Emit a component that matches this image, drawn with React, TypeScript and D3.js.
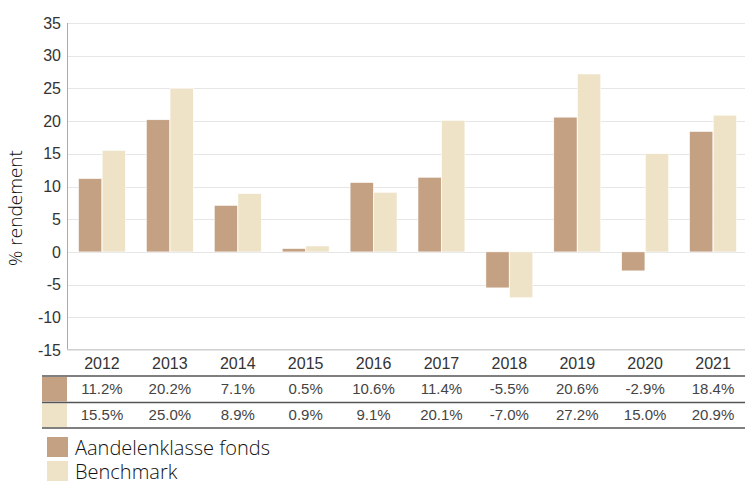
import React from "react";
import * as d3 from "d3";

const years = ["2012", "2013", "2014", "2015", "2016", "2017", "2018", "2019", "2020", "2021"];
const fundValues = [11.2, 20.2, 7.1, 0.5, 10.6, 11.4, -5.5, 20.6, -2.9, 18.4];
const benchValues = [15.5, 25.0, 8.9, 0.9, 9.1, 20.1, -7.0, 27.2, 15.0, 20.9];
const seriesNames = ["Aandelenklasse fonds", "Benchmark"];
const seriesColors = ["#C4A183", "#EEE2C7"];
const yTicks = [35, 30, 25, 20, 15, 10, 5, 0, -5, -10, -15];

const W = 745;
const H = 484;
const left = 67;
const right = 748;
const top = 23;
const bottom = 350;

export default function App() {
  const x = d3.scaleBand<string>().domain(years).range([left, right]).paddingInner(0.31).paddingOuter(0.17);
  const xs = d3.scaleBand<number>().domain([0, 1]).range([0, x.bandwidth()]).paddingInner(0.02);
  const y = d3.scaleLinear().domain([-15, 35]).range([bottom, top]);
  const series = [fundValues, benchValues];
  const tickFont = "'Liberation Sans', Arial, sans-serif";
  const labelFont = "'Open Sans', 'Noto Sans', sans-serif";

  const rowLines = [376, 402.5, 428];
  const rowText = [358, 389, 415];

  return (
    <svg width={W} height={H} style={{ position: "absolute", left: 0, top: 0, background: "#fff" }}>
      {yTicks.map((t) => (
        <line key={t} x1={left} x2={W} y1={Math.round(y(t)) + 0.5} y2={Math.round(y(t)) + 0.5} stroke="#E6E6E6" strokeWidth={1} />
      ))}
      {yTicks.map((t) => (
        <text key={"l" + t} x={left - 6} y={y(t)} dy="0.35em" textAnchor="end" fontFamily={tickFont} fontSize={16} fill="#333">
          {t}
        </text>
      ))}
      {series.map((vals, si) =>
        vals.map((v, i) => (
          <rect
            key={si + "-" + i}
            x={(x(years[i]) as number) + (xs(si) as number)}
            y={Math.min(y(v), y(0))}
            width={xs.bandwidth()}
            height={Math.abs(y(v) - y(0))}
            fill={seriesColors[si]}
            stroke="#fff"
            strokeWidth={0.5}
          />
        ))
      )}
      <line x1={left + 0.5} x2={left + 0.5} y1={top} y2={bottom} stroke="#AAAAAA" />
      <line x1={left} x2={W} y1={bottom - 0.5} y2={bottom - 0.5} stroke="#D0D0D0" />

      {years.map((yr) => (
        <text key={"h" + yr} x={(x(yr) as number) + x.bandwidth() / 2} y={rowText[0] + 5} dy="0.35em" textAnchor="middle" fontFamily={tickFont} fontSize={16} fill="#333">
          {yr}
        </text>
      ))}
      {series.map((vals, si) =>
        vals.map((v, i) => (
          <text
            key={"t" + si + "-" + i}
            x={(x(years[i]) as number) + x.bandwidth() / 2}
            y={rowText[si + 1]}
            dy="0.35em"
            textAnchor="middle"
            fontFamily={tickFont}
            fontSize={15}
            fill="#444"
          >
            {v.toFixed(1) + "%"}
          </text>
        ))
      )}
      {series.map((_, si) => (
        <rect key={"sw" + si} x={42} y={rowLines[si] + 1} width={left - 42} height={rowLines[si + 1] - rowLines[si] - 2} fill={seriesColors[si]} />
      ))}
      {rowLines.map((ly, i) => (
        <line key={"rl" + i} x1={42} x2={W} y1={ly} y2={ly} stroke="#555" strokeWidth={1.5} />
      ))}

      {seriesNames.map((n, si) => (
        <g key={n} transform={`translate(47,${437 + si * 24})`}>
          <rect x={0} y={0} width={21} height={20} fill={seriesColors[si]} />
          <text x={28} y={18} fontFamily={labelFont} fontSize={20} fontWeight={300} fill="#111">
            {n}
          </text>
        </g>
      ))}

      <text
        transform={`translate(22,208) rotate(-90)`}
        textAnchor="middle"
        fontFamily={labelFont}
        fontSize={19}
        fontWeight={300}
        fill="#111"
      >
        % rendement
      </text>
    </svg>
  );
}
